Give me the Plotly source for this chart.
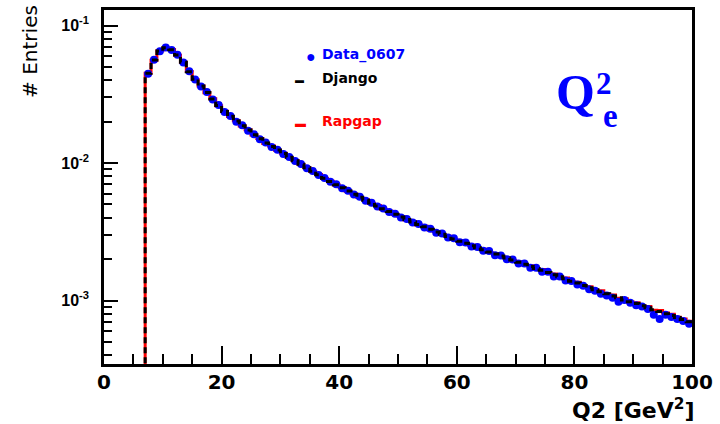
import plotly.graph_objects as go

# Bin edges (GeV^2): bins of width 1 from 7 to 100
bin_low = list(range(7, 100))
bin_centers = [b + 0.5 for b in bin_low]

django = [0.0449, 0.0562, 0.0653, 0.0689, 0.0668, 0.0610, 0.0540, 0.0462, 0.0407, 0.0363,
          0.0326, 0.0292, 0.0262, 0.0237, 0.0219, 0.0202, 0.0187, 0.0174, 0.0161, 0.0150,
          0.0140, 0.0132, 0.01245, 0.01172, 0.01104, 0.01040, 0.00979, 0.00923, 0.00871, 0.00822,
          0.00776, 0.00735, 0.00697, 0.00661, 0.00627, 0.00594, 0.00565, 0.00537, 0.00512, 0.00488,
          0.00465, 0.00444, 0.00425, 0.00406, 0.00389, 0.00373, 0.00358, 0.00344, 0.00330, 0.00316,
          0.00304, 0.00292, 0.00281, 0.00270, 0.00261, 0.00251, 0.00242, 0.00234, 0.00226, 0.00218,
          0.00211, 0.00204, 0.00197, 0.00190, 0.00184, 0.00177, 0.00171, 0.00166, 0.00160, 0.00154,
          0.00149, 0.00144, 0.00138, 0.00134, 0.00129, 0.00124, 0.00120, 0.00116, 0.00112, 0.00108,
          0.00105, 0.00101, 0.000982, 0.000951, 0.000918, 0.000889, 0.000859, 0.000832, 0.000804, 0.000778,
          0.000752, 0.000728, 0.000703]

rapgap = [0.0450, 0.0560, 0.0655, 0.0688, 0.0670, 0.0608, 0.0541, 0.0463, 0.0405, 0.0364,
          0.0325, 0.0293, 0.0261, 0.0238, 0.0218, 0.0203, 0.0186, 0.0175, 0.0160, 0.0151,
          0.0139, 0.0133, 0.01240, 0.01178, 0.01100, 0.01045, 0.00975, 0.00928, 0.00868, 0.00826,
          0.00772, 0.00738, 0.00694, 0.00664, 0.00624, 0.00597, 0.00562, 0.00540, 0.00509, 0.00491,
          0.00462, 0.00447, 0.00422, 0.00409, 0.00386, 0.00376, 0.00355, 0.00347, 0.00328, 0.00318,
          0.00302, 0.00294, 0.00279, 0.00272, 0.00259, 0.00253, 0.00240, 0.00236, 0.00224, 0.00220,
          0.00209, 0.00206, 0.00195, 0.00192, 0.00182, 0.00179, 0.00170, 0.00168, 0.00159, 0.00156,
          0.00148, 0.00146, 0.00137, 0.00136, 0.00128, 0.00126, 0.00119, 0.00118, 0.00111, 0.00110,
          0.00104, 0.00103, 0.000975, 0.000965, 0.000912, 0.000905, 0.000852, 0.000848, 0.000812, 0.000795,
          0.000758, 0.000735, 0.000708]

data_0607 = [0.0447, 0.0565, 0.0650, 0.0692, 0.0665, 0.0612, 0.0538, 0.0465, 0.0405, 0.0361,
             0.0328, 0.0290, 0.0264, 0.0235, 0.0220, 0.0200, 0.0188, 0.0172, 0.0162, 0.0149,
             0.0141, 0.0131, 0.01250, 0.01165, 0.01108, 0.01035, 0.00983, 0.00918, 0.00875, 0.00818,
             0.00779, 0.00731, 0.00700, 0.00657, 0.00630, 0.00590, 0.00568, 0.00533, 0.00515, 0.00484,
             0.00468, 0.00440, 0.00428, 0.00402, 0.00392, 0.00369, 0.00361, 0.00340, 0.00333, 0.00312,
             0.00307, 0.00288, 0.00284, 0.00266, 0.00264, 0.00247, 0.00245, 0.00230, 0.00229, 0.00214,
             0.00213, 0.00200, 0.00199, 0.00186, 0.00186, 0.00173, 0.00173, 0.00162, 0.00162, 0.00150,
             0.00150, 0.00140, 0.00139, 0.00131, 0.00128, 0.00121, 0.00118, 0.00112, 0.00109, 0.00105,
             0.00098, 0.00101, 0.000965, 0.000925, 0.000905, 0.000870, 0.000790, 0.000735, 0.000790, 0.000760,
             0.000735, 0.000712, 0.000680]

x_ticks = [0, 20, 40, 60, 80, 100]
x_ticklabels = ["0", "20", "40", "60", "80", "100"]
y_decades = [1e-3, 1e-2, 1e-1]
y_decade_labels = ["10<sup>-3</sup>", "10<sup>-2</sup>", "10<sup>-1</sup>"]
y_minor_ticks = [m * d for d in (1e-4, 1e-3, 1e-2, 1e-1) for m in range(2, 10)]

Y_RANGE = [-3.461, -0.887]

# step-line coordinates built from bin edges
FLOOR = 1e-6
step_x = [bin_low[0]] + bin_low + [bin_low[-1] + 1]
dj_y = [FLOOR] + django + [django[-1]]
rg_y = [FLOOR] + rapgap + [rapgap[-1]]

fig = go.Figure()
fig.add_trace(go.Scatter(x=step_x, y=rg_y, mode="lines", line_shape="hv",
                         line=dict(color="#ff0000", width=3), name="Rapgap",
                         showlegend=False))
fig.add_trace(go.Scatter(x=bin_centers, y=data_0607, mode="markers",
                         marker=dict(color="#0000ff", size=8), name="Data_0607",
                         showlegend=False))
fig.add_trace(go.Scatter(x=step_x, y=dj_y, mode="lines", line_shape="hv", yaxis="y2",
                         line=dict(color="#000000", width=3, dash="6px,4px"), name="Django",
                         showlegend=False))

SANS = "DejaVu Sans, Verdana, sans-serif"
font_x = dict(family=SANS, size=20, color="black", weight="bold")
font_y = dict(family="Liberation Sans, Arial, sans-serif", size=16, color="black", weight="bold")

fig.update_layout(
    width=720, height=424,
    margin=dict(l=104, r=25, t=7, b=60),
    paper_bgcolor="white", plot_bgcolor="white",
    showlegend=False,
    xaxis=dict(range=[0, 100], tickmode="array", tickvals=x_ticks, ticktext=x_ticklabels,
               ticks="inside", ticklen=18, tickwidth=2, tickcolor="black",
               minor=dict(ticks="inside", ticklen=10, tickwidth=2, dtick=5, tickcolor="black", showgrid=False),
               showline=True, linewidth=3, linecolor="black", mirror=True,
               showgrid=False, zeroline=False, tickfont=font_x, ticklabelstandoff=-2),
    yaxis=dict(type="log", range=Y_RANGE, tickmode="array", tickvals=y_minor_ticks,
               ticktext=[""] * len(y_minor_ticks),
               ticks="inside", ticklen=8, tickwidth=2, tickcolor="black",
               showline=True, linewidth=3, linecolor="black", mirror=True,
               showgrid=False, zeroline=False),
    yaxis2=dict(type="log", range=Y_RANGE, overlaying="y", side="left",
                tickmode="array", tickvals=y_decades, ticktext=y_decade_labels,
                ticks="inside", ticklen=14, tickwidth=2, tickcolor="black",
                showline=False, showgrid=False, zeroline=False,
                tickfont=font_y, ticklabelstandoff=14),
)

ann = []
# axis titles
ann.append(dict(text="# Entries", textangle=-90, xref="paper", yref="paper",
                x=-0.125, y=1.02, xanchor="center", yanchor="top", showarrow=False,
                font=dict(family=SANS, size=20, color="black")))
ann.append(dict(text="Q2 [GeV<sup>2</sup>]", xref="paper", yref="paper",
                x=1.008, y=-0.172, xanchor="right", yanchor="bottom", showarrow=False,
                font=dict(family=SANS, size=22, color="black", weight="bold")))
# legend
leg_font = dict(family=SANS, size=14, weight="bold")
ann.append(dict(text="●", xref="paper", yref="paper", x=(312 - 104) / 591, y=(364 - 53) / 357,
                xanchor="center", yanchor="middle", showarrow=False,
                font=dict(size=16, color="#0000ff")))
ann.append(dict(text="Data_0607", xref="paper", yref="paper", x=(321 - 104) / 591, y=(364 - 52) / 357,
                xanchor="left", yanchor="middle", showarrow=False,
                font=dict(leg_font, color="#0000ff")))
ann.append(dict(text="▬", xref="paper", yref="paper", x=(300 - 104) / 591, y=(364 - 77) / 357,
                xanchor="center", yanchor="middle", showarrow=False,
                font=dict(size=9, color="black")))
ann.append(dict(text="Django", xref="paper", yref="paper", x=(321 - 104) / 591, y=(364 - 76) / 357,
                xanchor="left", yanchor="middle", showarrow=False,
                font=dict(leg_font, color="black")))
ann.append(dict(text="▬", xref="paper", yref="paper", x=(302 - 104) / 591, y=(364 - 120) / 357,
                xanchor="center", yanchor="middle", showarrow=False,
                font=dict(size=11, color="#ff0000")))
ann.append(dict(text="Rapgap", xref="paper", yref="paper", x=(321 - 104) / 591, y=(364 - 119) / 357,
                xanchor="left", yanchor="middle", showarrow=False,
                font=dict(leg_font, color="#ff0000")))
# Q^2_e label
serif = "Liberation Serif, Times New Roman, serif"
ann.append(dict(text="Q", xref="paper", yref="paper", x=(556 - 104) / 591, y=(364 - 90) / 357,
                xanchor="left", yanchor="middle", showarrow=False,
                font=dict(family=serif, size=50, color="#0000ff", weight="bold")))
ann.append(dict(text="2", xref="paper", yref="paper", x=(597 - 104) / 591, y=(364 - 81) / 357,
                xanchor="left", yanchor="middle", showarrow=False,
                font=dict(family=serif, size=31, color="#0000ff", weight="bold")))
ann.append(dict(text="e", xref="paper", yref="paper", x=(604 - 104) / 591, y=(364 - 114) / 357,
                xanchor="left", yanchor="middle", showarrow=False,
                font=dict(family=serif, size=33, color="#0000ff", weight="bold")))
fig.update_layout(annotations=ann)

fig.write_html("out.html")
